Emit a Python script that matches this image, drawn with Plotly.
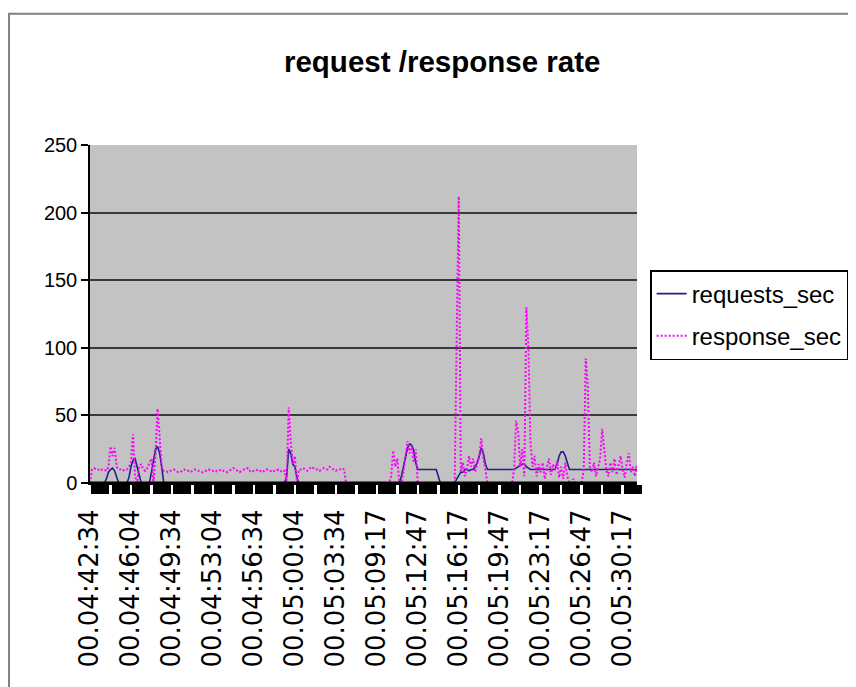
import plotly.graph_objects as go

# ---- data (sample index along a category axis, ~10.5 s per sample) ----
tick_labels = ["00.04:42:34", "00.04:46:04", "00.04:49:34", "00.04:53:04",
               "00.04:56:34", "00.05:00:04", "00.05:03:34", "00.05:09:17",
               "00.05:12:47", "00.05:16:17", "00.05:19:47", "00.05:23:17",
               "00.05:26:47", "00.05:30:17"]
label_every = 20

response_sec = [
    0, 10, 11, 10, 10, 9, 10, 10, 9, 12,
    27, 20, 26, 12, 10, 10, 9, 10, 10, 12,
    15, 36, 5, 0, 12, 14, 10, 9, 11, 14,
    18, 0, 22, 55, 30, 12, 9, 9, 8, 9,
    9, 10, 9, 8, 8, 9, 10, 9, 9, 8,
    9, 10, 10, 9, 8, 8, 9, 9, 10, 9,
    9, 8, 9, 9, 10, 9, 9, 8, 9, 10,
    11, 10, 9, 8, 9, 10, 10, 11, 9, 8,
    9, 9, 10, 9, 8, 9, 10, 10, 9, 8,
    9, 9, 10, 9, 8, 9, 0, 56, 30, 14,
    20, 0, 10, 10, 11, 10, 9, 10, 12, 11,
    10, 10, 9, 10, 11, 10, 10, 12, 11, 10,
    9, 10, 10, 11, 10, 0, 0, 0, 0, 0,
    0, 0, 0, 0, 0, 0, 0, 0, 0, 0,
    0, 0, 0, 0, 0, 0, 0, 5, 24, 12,
    18, 0, 0, 8, 20, 31, 22, 28, 15, 25,
    0, 0, 0, 0, 0, 0, 0, 0, 0, 0,
    0, 0, 0, 0, 0, 0, 0, 0, 0, 110,
    212, 8, 15, 5, 10, 20, 12, 18, 8, 14,
    20, 33, 18, 10, 0, 0, 0, 0, 0, 0,
    0, 0, 0, 0, 0, 0, 0, 10, 46, 38,
    12, 25, 5, 130, 100, 30, 12, 20, 5, 14,
    8, 15, 3, 12, 18, 6, 14, 10, 16, 4,
    12, 3, 15, 5, 0, 0, 3, 0, 0, 0,
    0, 10, 92, 70, 12, 8, 15, 5, 12, 18,
    40, 25, 10, 5, 15, 8, 18, 6, 12, 20,
    10, 4, 15, 22, 8, 12, 5, 14,
]

requests_sec = [
    0, 0, 0, 0, 0, 0, 0, 0, 3, 8,
    10, 11, 9, 5, 0, 0, 0, 0, 0, 4,
    12, 17, 18, 12, 6, 0, 0, 0, 0, 0,
    8, 18, 25, 27, 22, 12, 0, 0, 0, 0,
    0, 0, 0, 0, 0, 0, 0, 0, 0, 0,
    0, 0, 0, 0, 0, 0, 0, 0, 0, 0,
    0, 0, 0, 0, 0, 0, 0, 0, 0, 0,
    0, 0, 0, 0, 0, 0, 0, 0, 0, 0,
    0, 0, 0, 0, 0, 0, 0, 0, 0, 0,
    0, 0, 0, 0, 0, 0, 5, 25, 22, 14,
    12, 4, 0, 0, 0, 0, 0, 0, 0, 0,
    0, 0, 0, 0, 0, 0, 0, 0, 0, 0,
    0, 0, 0, 0, 0, 0, 0, 0, 0, 0,
    0, 0, 0, 0, 0, 0, 0, 0, 0, 0,
    0, 0, 0, 0, 0, 0, 0, 0, 0, 0,
    0, 0, 5, 12, 20, 26, 29, 28, 24, 15,
    10, 10, 10, 10, 10, 10, 10, 10, 10, 10,
    5, 0, 0, 0, 0, 0, 0, 0, 0, 3,
    6, 8, 8, 10, 10, 9, 10, 10, 12, 15,
    20, 26, 22, 14, 10, 10, 10, 10, 10, 10,
    10, 10, 10, 10, 10, 10, 10, 10, 11, 12,
    13, 14, 14, 12, 11, 10, 10, 10, 10, 10,
    10, 10, 10, 10, 10, 10, 10, 10, 14, 20,
    23, 23, 20, 14, 10, 10, 10, 10, 10, 10,
    10, 10, 10, 10, 10, 10, 10, 10, 10, 10,
    10, 10, 10, 10, 10, 10, 10, 10, 10, 10,
    10, 10, 10, 10, 10, 10, 10, 10,
]

y_ticks = [0, 50, 100, 150, 200, 250]

n = len(response_sec)
idx = list(range(n))
half = label_every // 2
label_pos = [i * label_every for i in range(len(tick_labels))]
block_pos = [half // 2 + i * half for i in range((n + half - 1) // half)]

fig = go.Figure()
fig.add_trace(go.Scatter(
    x=idx, y=requests_sec, mode="lines", name="requests_sec",
    legendgroup="a",
    line=dict(color="#20208c", width=1.6),
))
fig.add_trace(go.Scatter(
    x=idx, y=response_sec, mode="lines", name="response_sec",
    legendgroup="b",
    line=dict(color="#ff00ff", width=2, dash="2px,2px"),
))

fig.update_layout(
    width=848, height=679,
    margin=dict(l=82, r=219, t=137, b=204, autoexpand=False),
    paper_bgcolor="white",
    plot_bgcolor="#c3c3c3",
    font=dict(family="Liberation Sans, Arial, sans-serif", color="black"),
    title=dict(text="<b>request /response rate</b>", x=0.512, xanchor="center",
               y=0.921, yanchor="middle",
               font=dict(size=29.5, family="Liberation Sans, Arial, sans-serif")),
    showlegend=True,
    legend=dict(x=1.024, xanchor="left", y=0.63, yanchor="top",
                bgcolor="white", bordercolor="black", borderwidth=1.5,
                font=dict(size=24), tracegroupgap=8, itemwidth=30),
    xaxis=dict(
        range=[0, n - 1],
        tickmode="array", tickvals=label_pos, ticktext=tick_labels,
        tickangle=-90, ticks="outside", ticklen=14, tickcolor="rgba(0,0,0,0)",
        tickfont=dict(size=26, family="DejaVu Sans, sans-serif"),
        showgrid=False, zeroline=False,
        showline=True, linecolor="black", linewidth=2,
        minor=dict(tickmode="array", tickvals=block_pos, ticks="outside",
                   ticklen=9, tickwidth=17.5, tickcolor="black", showgrid=False),
    ),
    yaxis=dict(
        range=[0, 250], tickmode="array", tickvals=y_ticks,
        ticks="outside", ticklen=7, tickcolor="black", tickwidth=1.5,
        tickfont=dict(size=20),
        showgrid=True, gridcolor="#3a3a3a", gridwidth=2,
        zeroline=False, showline=True, linecolor="black", linewidth=1.5,
    ),
    shapes=[
        dict(type="rect", xref="paper", yref="paper",
             x0=-0.148, x1=1.45, y0=-0.7, y1=1.388,
             line=dict(color="#808080", width=2), layer="below"),
        # category axis drawn over the series, as the source chart does
        dict(type="line", xref="paper", yref="y", x0=0, x1=1, y0=0, y1=0,
             line=dict(color="black", width=3), layer="above"),
    ],
)

fig.write_html("out.html")
